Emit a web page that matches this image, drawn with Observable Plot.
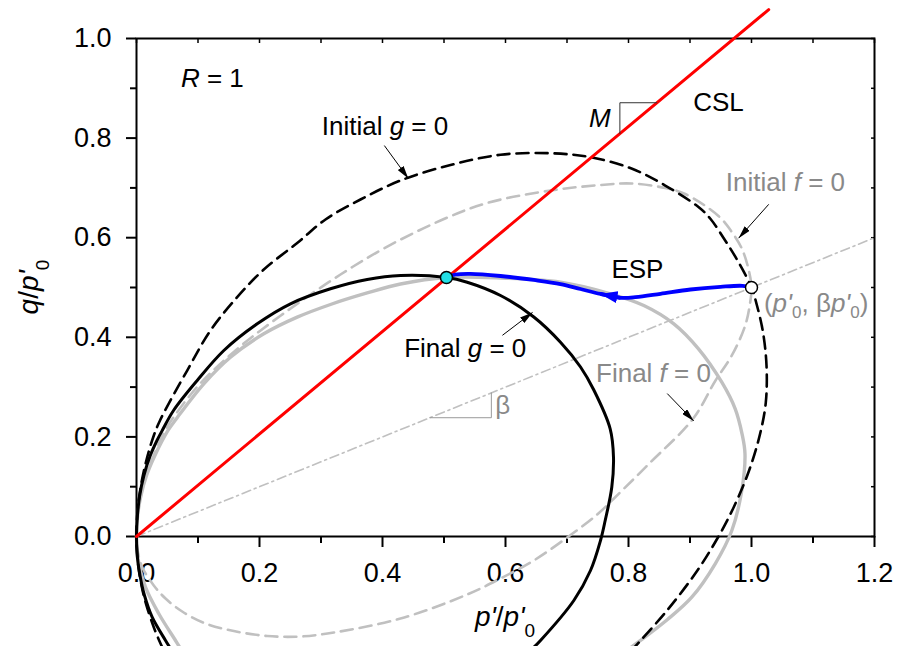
<!DOCTYPE html>
<html>
<head>
<meta charset="utf-8">
<script src="https://cdn.jsdelivr.net/npm/d3@7"></script>
<script src="https://cdn.jsdelivr.net/npm/@observablehq/plot@0.6"></script>
<style>
  html, body { margin: 0; padding: 0; background: #fff; }
  #chart svg { display: block; }
</style>
</head>
<body>
<div id="chart"></div>
<script>
// ---------- data (p'/p'0, q/p'0) ----------
const xMajor = [0, 0.2, 0.4, 0.6, 0.8, 1.0, 1.2];
const xMinor = [0.1, 0.3, 0.5, 0.7, 0.9, 1.1];
const yMajor = [0, 0.2, 0.4, 0.6, 0.8, 1.0];
const yMinor = [0.1, 0.3, 0.5, 0.7, 0.9];

const initialG = [
  [0.0428,-0.2249],[0.0369,-0.2088],[0.0281,-0.1821],[0.0163,-0.1386],[0.0099,-0.1084],
  [0.0031,-0.0602],[0,0],[0.0018,0.0522],[0.0070,0.1004],[0.0156,0.1506],[0.0276,0.2008],
  [0.0382,0.2329],[0.0824,0.3333],[0.1203,0.4137],[0.1637,0.4805],[0.2070,0.5361],
  [0.2613,0.5894],[0.3073,0.6366],[0.3642,0.6767],[0.4293,0.7149],[0.5106,0.7460],
  [0.5919,0.7665],[0.6732,0.7697],[0.7382,0.7616],[0.8049,0.7390],[0.8597,0.7048],
  [0.9138,0.6616],[0.9328,0.6386],[0.9572,0.5944],[0.9789,0.5508],[1.0,0.5],
  [1.0089,0.4639],[1.0187,0.4102],[1.0244,0.3434],[1.0233,0.2697],[1.0141,0.2068],
  [0.9961,0.1325],[0.9711,0.0588],[0.9463,0],[0.9120,-0.0683],[0.8626,-0.1486],
  [0.8197,-0.2088],[0.8080,-0.2249]
];
const initialF = [
  [0,0],[0.0016,0.0422],[0.0070,0.0803],[0.0154,0.1225],[0.0280,0.1627],[0.0467,0.2129],
  [0.0602,0.2396],[0.1029,0.3062],[0.1672,0.3801],[0.2163,0.4271],[0.2655,0.4709],
  [0.3317,0.5261],[0.4021,0.5783],[0.4943,0.6345],[0.5702,0.6697],[0.6732,0.6948],
  [0.7545,0.7058],[0.8049,0.7088],[0.8597,0.6998],[0.8922,0.6878],[0.9463,0.6436],
  [0.9680,0.6114],[0.9842,0.5783],[0.9951,0.5371],[1.0,0.5],[0.9979,0.4705],
  [0.9898,0.4237],[0.9680,0.3635],[0.9415,0.3133],[0.9049,0.2363],[0.8333,0.1460],
  [0.7784,0.0789],[0.7491,0.0442],[0.7003,-0.0020],[0.6460,-0.0482],[0.5919,-0.0843],
  [0.5377,-0.1165],[0.4293,-0.1647],[0.3208,-0.1928],[0.2667,-0.2008],[0.2125,-0.1998],
  [0.1582,-0.1898],[0.1122,-0.1747],[0.0743,-0.1506],[0.0472,-0.1245],[0.0281,-0.0984],
  [0.0093,-0.0616],[0.0024,-0.0321],[0,0]
];
const finalG = [
  [0.0553,-0.2249],[0.0472,-0.2088],[0.0255,-0.1620],[0.0130,-0.1185],[0.0057,-0.0783],
  [0.0011,-0.0382],[0,0],[0.0015,0.0422],[0.0052,0.0823],[0.0120,0.1225],[0.0224,0.1627],
  [0.0333,0.1928],[0.0418,0.2129],[0.0602,0.2530],[0.0987,0.3133],[0.1420,0.3735],
  [0.1963,0.4271],[0.2504,0.4673],[0.3154,0.4974],[0.3751,0.5161],[0.4293,0.5241],
  [0.5041,0.5201],[0.5377,0.5106],[0.5919,0.4839],[0.6460,0.4408],[0.6894,0.3902],
  [0.7220,0.3404],[0.7436,0.2942],[0.7702,0.2163],[0.7756,0.1592],[0.7728,0.0990],
  [0.7621,0.0321],[0.7545,-0.0080],[0.7382,-0.0683],[0.7111,-0.1285],[0.6569,-0.2088],
  [0.6439,-0.2249]
];
const finalF = [
  [0.0715,-0.2249],[0.0634,-0.2088],[0.0363,-0.1552],[0.0146,-0.1018],[0.0033,-0.0502],
  [0,0],[0.0018,0.0422],[0.0072,0.0823],[0.0163,0.1225],[0.0299,0.1627],[0.0512,0.2129],
  [0.0667,0.2396],[0.1094,0.3066],[0.1528,0.3600],[0.2070,0.4070],[0.2613,0.4404],
  [0.3154,0.4659],[0.3751,0.4890],[0.4293,0.5070],[0.5041,0.5201],[0.5919,0.5191],
  [0.6894,0.5106],[0.7707,0.4873],[0.8249,0.4639],[0.8737,0.4271],[0.9138,0.3769],
  [0.9517,0.3098],[0.9735,0.2564],[0.9846,0.2062],[0.9894,0.1661],[0.9842,0.0924],
  [0.9680,0.0120],[0.9410,-0.0548],[0.9029,-0.1219],[0.8634,-0.1667],[0.8195,-0.2088],
  [0.8016,-0.2249]
];
const esp = [
  [1.0,0.5],[0.9854,0.5034],[0.9496,0.5014],[0.9008,0.4960],[0.8520,0.4873],
  [0.8114,0.4805],[0.7870,0.4793],[0.7545,0.4870],[0.7220,0.4970],[0.6894,0.5070],
  [0.6460,0.5151],[0.5919,0.5231],[0.5431,0.5275],[0.5187,0.5261],[0.5041,0.5201]
];
const csl = [[0,0],[1.028,1.058]];
const betaLine = [[0,0],[1.2,0.6]];
const mTriangle = [[0.786,0.809],[0.786,0.871],[0.846,0.871]];
const betaTriangle = [[0.477,0.2385],[0.577,0.2385],[0.577,0.2885]];
const startPoint = [[1.0,0.5]];
const endPoint = [[0.504,0.52]];

// annotation arrows (data units)
const annotArrows = [
  {x1:0.403,y1:0.785,x2:0.442,y2:0.719},
  {x1:1.028,y1:0.667,x2:0.979,y2:0.599},
  {x1:0.595,y1:0.404,x2:0.644,y2:0.450},
  {x1:0.863,y1:0.287,x2:0.906,y2:0.232}
];
const espArrowIndex = 6; // arrowhead drawn on segment esp[6] -> esp[7]

const GRAY = "#c0c0c0";
const TEXTGRAY = "#898989";
const ARROW_BLACK = "#010101";
const ESP_BLUE = "#0000fe";
const FONT = "'Liberation Sans', Arial, Helvetica, sans-serif";

const X = d => d[0], Y = d => d[1];
const curveLine = (data, o) => Plot.line(data, {x: X, y: Y, curve: "catmull-rom", ...o});
const fmt = d => d.toFixed(1);

const plot = Plot.plot({
  width: 898,
  height: 646,
  marginLeft: 136,
  marginRight: 24,
  marginTop: 38,
  marginBottom: 110,
  x: {domain: [0, 1.2], label: null},
  y: {domain: [0, 1.0], label: null},
  style: {fontFamily: FONT, fontSize: "27px", background: "white", color: "black"},
  marks: [
    Plot.axisX(xMajor, {anchor: "bottom", tickSize: 11, tickPadding: 15, tickFormat: fmt, fontSize: 27, strokeWidth: 2, label: null}),
    Plot.axisX(xMinor, {anchor: "bottom", tickSize: 7, tickFormat: () => "", strokeWidth: 2, label: null}),
    Plot.axisY(yMajor, {anchor: "left", tickSize: 10, tickPadding: 15, tickFormat: fmt, fontSize: 27, strokeWidth: 2, label: null}),
    Plot.axisY(yMinor, {anchor: "left", tickSize: 6, tickFormat: () => "", strokeWidth: 2, label: null}),
    Plot.axisX([...xMajor, ...xMinor], {anchor: "top", tickSize: -4, tickFormat: () => "", strokeWidth: 1.5, label: null}),
    Plot.axisY([...yMajor, ...yMinor], {anchor: "right", tickSize: -4, tickFormat: () => "", strokeWidth: 1.5, label: null}),
    Plot.frame({stroke: "black", strokeWidth: 2}),

    Plot.line(betaLine, {x: X, y: Y, stroke: GRAY, strokeWidth: 1.6, strokeDasharray: "9,4,2,4"}),
    Plot.line(betaTriangle, {x: X, y: Y, stroke: "#999", strokeWidth: 1}),

    curveLine(initialF, {stroke: GRAY, strokeWidth: 2.6, strokeDasharray: "12,7"}),
    curveLine(finalF, {stroke: GRAY, strokeWidth: 3.4}),
    curveLine(initialG, {stroke: "black", strokeWidth: 2.6, strokeDasharray: "12,7"}),
    curveLine(finalG, {stroke: "black", strokeWidth: 3}),

    Plot.line(csl, {x: X, y: Y, stroke: "#ff0000", strokeWidth: 3}),
    Plot.line(mTriangle, {x: X, y: Y, stroke: "#333", strokeWidth: 1}),

    curveLine(esp, {stroke: "#0000ff", strokeWidth: 3.8}),
    Plot.link([esp[espArrowIndex]], {
      x1: d => d[0], y1: d => d[1],
      x2: () => esp[espArrowIndex + 1][0], y2: () => esp[espArrowIndex + 1][1],
      stroke: ESP_BLUE, strokeWidth: 3.8
    }),

    Plot.link(annotArrows, {x1: "x1", y1: "y1", x2: "x2", y2: "y2", stroke: ARROW_BLACK, strokeWidth: 1}),

    Plot.dot(startPoint, {x: X, y: Y, r: 6, fill: "white", stroke: "black", strokeWidth: 1.5}),
    Plot.dot(endPoint, {x: X, y: Y, r: 6, fill: "#22e0e6", stroke: "black", strokeWidth: 1.5})
  ]
});

document.getElementById("chart").appendChild(plot);

// ---------- post: arrowheads and rich text ----------
const svg = d3.select(plot);
const defs = svg.append("defs");
function marker(id, color, len, wid) {
  defs.append("marker")
    .attr("id", id).attr("viewBox", `0 0 ${len} ${wid}`)
    .attr("refX", len).attr("refY", wid / 2)
    .attr("markerWidth", len).attr("markerHeight", wid)
    .attr("markerUnits", "userSpaceOnUse").attr("orient", "auto")
    .append("path").attr("d", `M0,0L${len},${wid / 2}L0,${wid}Z`).attr("fill", color);
}
marker("annotHead", "black", 13, 7);
marker("espHead", "#0000ff", 17, 12);
function tagArrows(stroke, id) {
  svg.selectAll("g").filter(function () {
    return (this.getAttribute("stroke") || "").toLowerCase() === stroke;
  }).selectAll("path, line").attr("marker-end", `url(#${id})`);
}
tagArrows(ARROW_BLACK, "annotHead");
tagArrows(ESP_BLUE, "espHead");

const sx = plot.scale("x"), sy = plot.scale("y");

function richText(x, y, parts, opts = {}) {
  const {fill = "black", size = 26, anchor = "start", rotate = 0, subSize = 17, subShift = 6} = opts;
  const t = svg.append("text")
    .attr("font-family", FONT).attr("font-size", size).attr("fill", fill)
    .attr("text-anchor", anchor)
    .attr("transform", `translate(${x},${y})` + (rotate ? ` rotate(${rotate})` : ""));
  let shifted = false;
  for (const [s, style] of parts) {
    const ts = t.append("tspan").text(s);
    if (style === "i") ts.attr("font-style", "italic");
    if (style === "sub") {
      ts.attr("font-size", subSize).attr("dy", subShift);
      shifted = true;
    } else if (shifted) {
      ts.attr("dy", -subShift);
      shifted = false;
    }
  }
  return t;
}

const labels = [
  {x: 0.073, y: 0.902, parts: [["R", "i"], [" = 1"]]},
  {x: 0.302, y: 0.805, parts: [["Initial "], ["g", "i"], [" = 0"]]},
  {x: 0.772, y: 0.821, parts: [["M", "i"]], anchor: "end"},
  {x: 0.906, y: 0.854, parts: [["CSL"]]},
  {x: 0.959, y: 0.693, parts: [["Initial "], ["f", "i"], [" = 0"]], fill: TEXTGRAY},
  {x: 0.773, y: 0.518, parts: [["ESP"]]},
  {x: 1.021, y: 0.450, parts: [["("], ["p'", "i"], ["0", "sub"], [", β"], ["p'", "i"], ["0", "sub"], [")"]], fill: TEXTGRAY},
  {x: 0.436, y: 0.360, parts: [["Final "], ["g", "i"], [" = 0"]]},
  {x: 0.584, y: 0.245, parts: [["β"]], fill: TEXTGRAY},
  {x: 0.748, y: 0.310, parts: [["Final "], ["f", "i"], [" = 0"]], fill: TEXTGRAY}
];
for (const l of labels) {
  richText(sx.apply(l.x), sy.apply(l.y), l.parts, {fill: l.fill, anchor: l.anchor});
}

// axis titles
const midX = (sx.apply(0) + sx.apply(1.2)) / 2;
const midY = (sy.apply(0) + sy.apply(1.0)) / 2;
richText(midX, sy.apply(0) + 90, [["p'", "i"], ["/"], ["p'", "i"], ["0", "sub"]], {anchor: "middle", size: 28, subSize: 19, subShift: 11});
richText(38, midY, [["q", "i"], ["/"], ["p'", "i"], ["0", "sub"]], {anchor: "middle", size: 28, subSize: 19, subShift: 11, rotate: -90});
</script>
</body>
</html>
